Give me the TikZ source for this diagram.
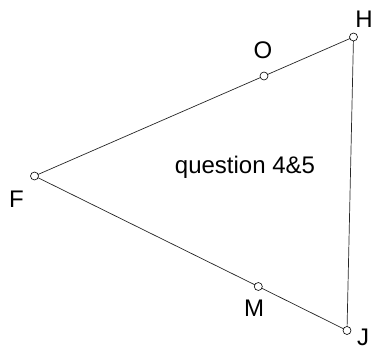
\documentclass[tikz,border=0pt]{standalone}
\usepackage{fontspec}
\setmainfont{Liberation Sans}
\usetikzlibrary{positioning}

\begin{document}
\begin{tikzpicture}[
    x=1pt, y=-1pt,
    % Styles
    vertex/.style={circle, draw=black, fill=white, line width=0.6pt, inner sep=0pt, minimum size=8pt},
    vlabel/.style={anchor=base, inner sep=0pt, font=\fontsize{24}{28}\selectfont},
    side/.style={line width=0.7pt, black!85}
]
    \useasboundingbox (0,0) rectangle (372,352);

    % 1. POINTS
    \coordinate (h_pos) at (353.5,37);
    \coordinate (o_pos) at (264,76);
    \coordinate (f_pos) at (34.5,176);
    \coordinate (m_pos) at (258.3,286.5);
    \coordinate (j_pos) at (347,330.5);

    % 2. SIDES
    \draw[side] (f_pos) -- (o_pos) -- (h_pos) -- (j_pos) -- (m_pos) -- (f_pos);

    % 3. VERTICES on top of the sides
    \node[vertex] (h_pt) at (h_pos) {};
    \node[vertex] (o_pt) at (o_pos) {};
    \node[vertex] (f_pt) at (f_pos) {};
    \node[vertex] (m_pt) at (m_pos) {};
    \node[vertex] (j_pt) at (j_pos) {};

    % 4. LABELS
    \node[vlabel] (h_lbl) at (364,27.3) {H};
    \node[vlabel] (o_lbl) at (263,59) {O};
    \node[vlabel] (f_lbl) at (16.5,207.7) {F};
    \node[vlabel] (m_lbl) at (254,316.7) {M};
    % J sits in the corner, kept just inside the edge
    \node[vlabel] (j_lbl) at (363,345) {J};

    % Title inside the triangle
    \node[vlabel] (title) at (245,173.3) {question 4\&5};

\end{tikzpicture}
\end{document}
